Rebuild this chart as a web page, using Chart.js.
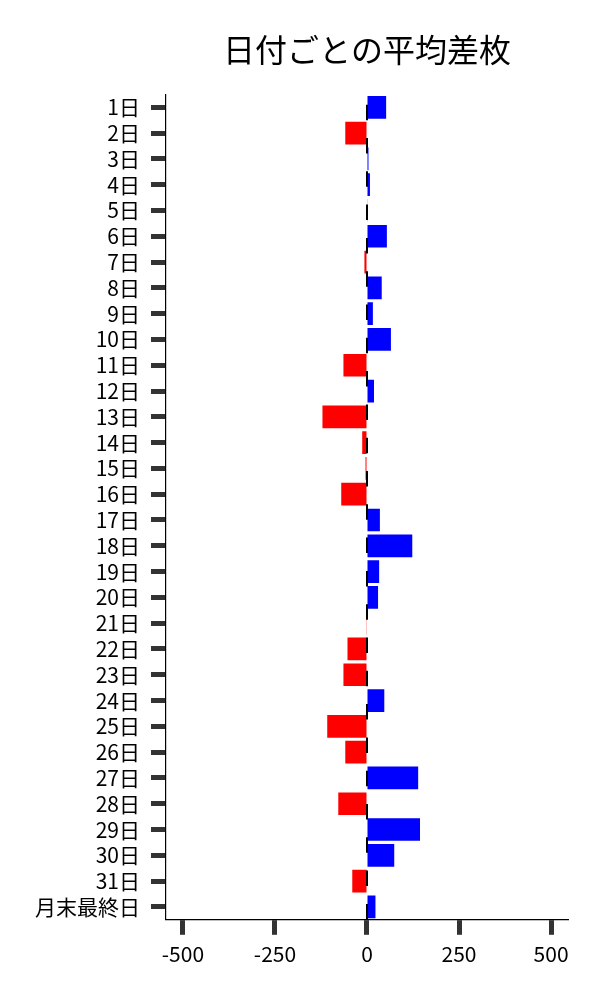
<!DOCTYPE html>
<html>
<head>
<meta charset="utf-8">
<script src="https://cdn.jsdelivr.net/npm/chart.js@4/dist/chart.umd.min.js"></script>
<style>
html,body{margin:0;padding:0;background:#fff;}
#wrap{width:600px;height:1000px;}
</style>
</head>
<body>
<div id="wrap"><canvas id="c" width="600" height="1000"></canvas></div>
<script>
const titleText = "日付ごとの平均差枚";
const days = ["1日","2日","3日","4日","5日","6日","7日","8日","9日","10日","11日","12日","13日","14日","15日","16日","17日","18日","19日","20日","21日","22日","23日","24日","25日","26日","27日","28日","29日","30日","31日","月末最終日"];
const avgDiff = [52,-59,4,8,1,54,-7,40,16,65,-64,19,-121,-13,-4,-70,35,123,33,30,-2,-53,-64,47,-108,-59,139,-78,144,74,-40,23];
const xTicks = [-500,-250,0,250,500];
const xMin = -546, xMax = 546;

const barColors = avgDiff.map(v => v >= 0 ? "#0000ff" : "#ff0000");
const FONT = "'Noto Sans CJK JP', 'Noto Sans', sans-serif";

const zeroLine = {
  id: 'zeroLine',
  afterDatasetsDraw(chart) {
    const {ctx, chartArea, scales} = chart;
    const x = scales.x.getPixelForValue(0);
    ctx.save();
    ctx.strokeStyle = '#000';
    ctx.lineWidth = 2;
    ctx.setLineDash([15.5, 17.8]);
    ctx.lineDashOffset = 23;
    ctx.beginPath();
    ctx.moveTo(x, chartArea.top);
    ctx.lineTo(x, chartArea.bottom);
    ctx.stroke();
    ctx.restore();
  }
};

new Chart(document.getElementById('c'), {
  type: 'bar',
  data: {
    labels: days,
    datasets: [{
      data: avgDiff,
      backgroundColor: barColors,
      borderWidth: 0,
      barPercentage: 0.88,
      categoryPercentage: 1.0
    }]
  },
  options: {
    indexAxis: 'y',
    responsive: false,
    animation: false,
    devicePixelRatio: 1,
    layout: { padding: { left: 24, right: 32, top: 14, bottom: 26 } },
    plugins: {
      legend: { display: false },
      tooltip: { enabled: false },
      title: {
        display: true,
        text: titleText,
        fullSize: false,
        color: '#000',
        font: { family: FONT, size: 32, weight: 'normal' },
        padding: { top: 17, bottom: 25 }
      }
    },
    scales: {
      x: {
        type: 'linear',
        min: xMin,
        max: xMax,
        afterBuildTicks: (axis) => { axis.ticks = xTicks.map(v => ({ value: v })); },
        grid: { display: true, drawOnChartArea: false, drawTicks: true, tickLength: 15, tickWidth: 5, tickColor: '#333' },
        border: { display: true, color: '#000', width: 1.2 },
        ticks: { color: '#000', font: { family: FONT, size: 21 }, padding: 7, maxRotation: 0 }
      },
      y: {
        type: 'category',
        offset: true,
        grid: { display: true, offset: false, drawOnChartArea: false, drawTicks: true, tickLength: 15, tickWidth: 5, tickColor: '#333' },
        border: { display: true, color: '#000', width: 1.2 },
        ticks: { color: '#000', font: { family: FONT, size: 21 }, padding: 11, autoSkip: false }
      }
    }
  },
  plugins: [zeroLine]
});
</script>
</body>
</html>
